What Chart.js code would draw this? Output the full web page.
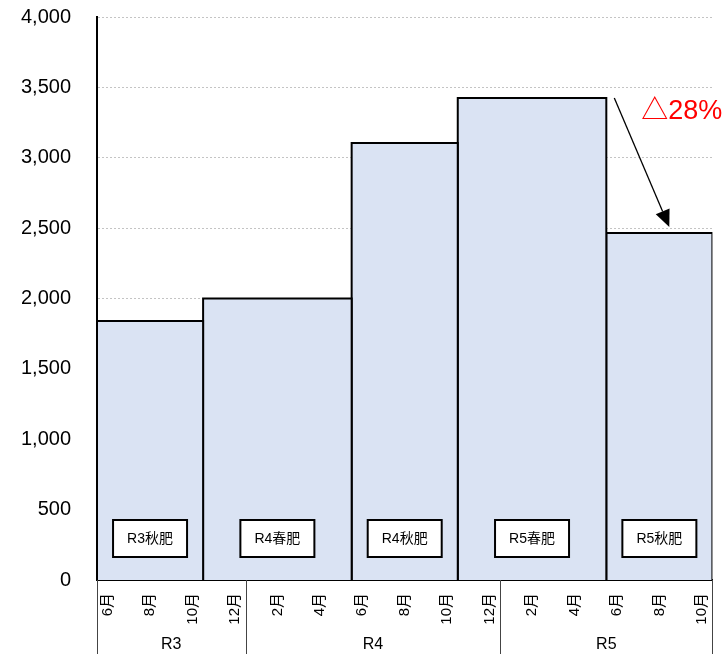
<!DOCTYPE html>
<html>
<head>
<meta charset="utf-8">
<script src="https://cdn.jsdelivr.net/npm/chart.js@4/dist/chart.umd.min.js"></script>
<style>
  html, body { margin: 0; padding: 0; background: #fff; overflow: hidden; }
  #wrap { position: relative; width: 725px; height: 675px; margin-top: -21px; }
</style>
</head>
<body>
<div id="wrap"><canvas id="c"></canvas></div>
<script>
// Fertilizer application periods and their totals
const periods = ['R3秋肥', 'R4春肥', 'R4秋肥', 'R5春肥', 'R5秋肥'];
const periodMonths = [5, 7, 5, 7, 5];            // length of each period, in months
const values = [1840, 2000, 3105, 3425, 2465];

// Monthly calendar from June R3 to October R5
const months = [6, 7, 8, 9, 10, 11, 12,
                1, 2, 3, 4, 5, 6, 7, 8, 9, 10, 11, 12,
                1, 2, 3, 4, 5, 6, 7, 8, 9, 10];
const years = ['R3', 'R4', 'R5'];
const yearMonths = [7, 12, 10];
const yTicks = [0, 500, 1000, 1500, 2000, 2500, 3000, 3500, 4000];
const changeLabel = '△28%';

const FONT = '"Liberation Sans", "Noto Sans CJK JP", sans-serif';
const FILL = '#DAE3F3';

// Start month offset of each period
const starts = [];
periodMonths.reduce((acc, m) => { starts.push(acc); return acc + m; }, 0);

// Each period is a closed step outline filled down to zero
const datasets = periods.map((name, i) => {
  const x0 = starts[i], x1 = starts[i] + periodMonths[i], v = values[i];
  return {
    label: name,
    data: [{x: x0, y: 0}, {x: x0, y: v}, {x: x1, y: v}, {x: x1, y: 0}],
    fill: 'origin',
    backgroundColor: FILL,
    borderColor: '#000',
    borderWidth: 2,
    borderJoinStyle: 'miter',
    pointRadius: 0,
    tension: 0
  };
});

// Name boxes inside each period
const nameBoxes = {
  id: 'nameBoxes',
  afterDatasetsDraw(chart) {
    const {ctx, chartArea, scales: {x}} = chart;
    ctx.save();
    ctx.font = '14px ' + FONT;
    ctx.textAlign = 'center';
    ctx.textBaseline = 'middle';
    periods.forEach((name, i) => {
      const cx = x.getPixelForValue(starts[i] + periodMonths[i] / 2);
      const w = 74, h = 37;
      const bottom = chartArea.bottom - 23;
      ctx.fillStyle = '#fff';
      ctx.fillRect(cx - w / 2, bottom - h, w, h);
      ctx.strokeStyle = '#000';
      ctx.lineWidth = 2;
      ctx.strokeRect(cx - w / 2, bottom - h, w, h);
      ctx.fillStyle = '#000';
      ctx.fillText(name, cx, bottom - h / 2 + 1);
    });
    ctx.restore();
  }
};

// Year band below the month labels, and the change arrow
const extras = {
  id: 'extras',
  afterDraw(chart) {
    const {ctx, chartArea, scales: {x, y}} = chart;
    const H = chart.height;
    ctx.save();
    // year separators
    ctx.strokeStyle = '#444';
    ctx.lineWidth = 1;
    let acc = 0;
    const edges = [0];
    yearMonths.forEach(m => { acc += m; edges.push(acc); });
    edges.forEach(e => {
      const px = Math.round(x.getPixelForValue(e)) + 0.5;
      ctx.beginPath();
      ctx.moveTo(px, chartArea.bottom);
      ctx.lineTo(px, H);
      ctx.stroke();
    });
    // year names
    ctx.fillStyle = '#000';
    ctx.font = '16px ' + FONT;
    ctx.textAlign = 'center';
    ctx.textBaseline = 'middle';
    years.forEach((yr, i) => {
      const cx = (x.getPixelForValue(edges[i]) + x.getPixelForValue(edges[i + 1])) / 2;
      ctx.fillText(yr, cx, chartArea.bottom + 65);
    });

    // arrow from the R5 spring total down to the R5 autumn total
    const edge = x.getPixelForValue(starts[4]);
    const sx = edge + 8, sy = y.getPixelForValue(values[3]);
    const ex = edge + 63, ey = y.getPixelForValue(values[4]) - 6;
    const ang = Math.atan2(ey - sy, ex - sx);
    const headLen = 17, headHalf = 7.5;
    const bx = ex - headLen * Math.cos(ang), by = ey - headLen * Math.sin(ang);
    ctx.strokeStyle = '#000';
    ctx.lineWidth = 1.3;
    ctx.beginPath();
    ctx.moveTo(sx, sy);
    ctx.lineTo(bx, by);
    ctx.stroke();
    ctx.fillStyle = '#000';
    ctx.beginPath();
    ctx.moveTo(ex, ey);
    ctx.lineTo(bx + headHalf * Math.sin(ang), by - headHalf * Math.cos(ang));
    ctx.lineTo(bx - headHalf * Math.sin(ang), by + headHalf * Math.cos(ang));
    ctx.closePath();
    ctx.fill();

    // rate of change
    ctx.fillStyle = '#FF0000';
    ctx.font = '27px ' + FONT;
    ctx.textAlign = 'left';
    ctx.textBaseline = 'middle';
    ctx.fillText(changeLabel, edge + 35, y.getPixelForValue(values[3]) + 14);
    ctx.restore();
  }
};

new Chart(document.getElementById('c'), {
  type: 'line',
  data: { datasets },
  options: {
    responsive: true,
    maintainAspectRatio: false,
    animation: false,
    layout: { padding: { top: 0, right: 11, left: 0, bottom: 0 } },
    plugins: { legend: { display: false }, tooltip: { enabled: false } },
    scales: {
      x: {
        type: 'linear',
        min: 0,
        max: months.length,
        grid: { display: false },
        border: { display: true, color: '#000', width: 2 },
        afterBuildTicks(scale) {
          scale.ticks = months
            .map((m, i) => ({m, i}))
            .filter(o => o.m % 2 === 0)
            .map(o => ({ value: o.i + 0.5 }));
        },
        afterFit(scale) { scale.height = 74; },
        ticks: {
          autoSkip: false,
          minRotation: 90,
          maxRotation: 90,
          padding: 5,
          color: '#000',
          font: { family: FONT, size: 15 },
          callback: (v) => months[Math.floor(v)] + '月'
        }
      },
      y: {
        min: 0,
        max: 4000,
        afterBuildTicks(scale) { scale.ticks = yTicks.map(v => ({ value: v })); },
        afterFit(scale) { scale.width = 97; },
        grid: { color: '#C4C4C4', lineWidth: 1, drawTicks: false },
        border: { display: true, color: '#000', width: 2, dash: [2, 2] },
        ticks: {
          padding: 26,
          color: '#000',
          font: { family: FONT, size: 20 },
          callback: (v) => v.toLocaleString('en-US')
        }
      }
    }
  },
  plugins: [nameBoxes, extras]
});
</script>
</body>
</html>
